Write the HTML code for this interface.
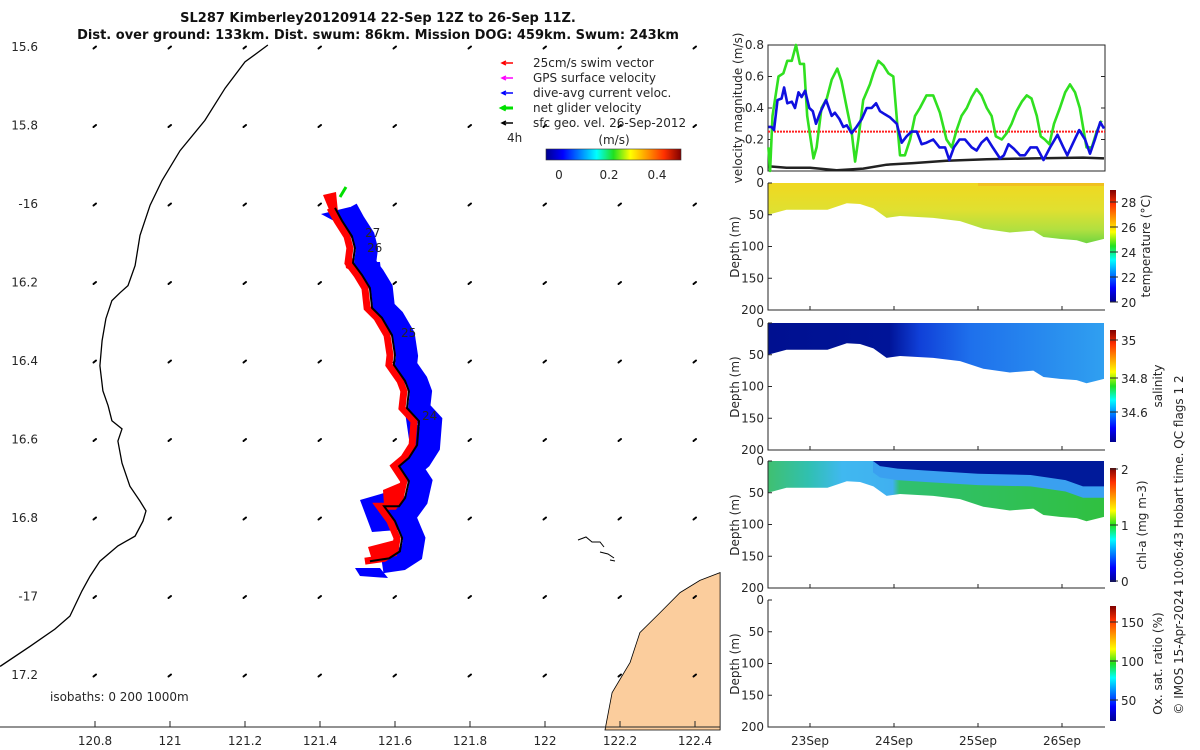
<!DOCTYPE html>
<html><head><meta charset="utf-8"><style>
html,body{margin:0;padding:0;background:#fff;}
svg{display:block;font-family:"DejaVu Sans","Liberation Sans",sans-serif;}
.t{font-size:12px;fill:#262626;}
</style></head><body>
<svg id="fig" width="1200" height="750" viewBox="0 0 1200 750">
<defs>
<linearGradient id="jet" x1="0" x2="1" y1="0" y2="0">
<stop offset="0" stop-color="#00008f"/><stop offset="0.125" stop-color="#0000ff"/><stop offset="0.375" stop-color="#00ffff"/><stop offset="0.5" stop-color="#20e020"/><stop offset="0.625" stop-color="#ffff00"/><stop offset="0.875" stop-color="#ff3000"/><stop offset="1" stop-color="#800000"/>
</linearGradient>
<linearGradient id="jetv" x1="0" x2="0" y1="1" y2="0">
<stop offset="0" stop-color="#00008f"/><stop offset="0.125" stop-color="#0000ff"/><stop offset="0.375" stop-color="#00ffff"/><stop offset="0.5" stop-color="#20e020"/><stop offset="0.625" stop-color="#ffff00"/><stop offset="0.875" stop-color="#ff3000"/><stop offset="1" stop-color="#800000"/>
</linearGradient>
<linearGradient id="tempg" gradientUnits="userSpaceOnUse" x1="0" y1="183" x2="0" y2="250">
<stop offset="0" stop-color="#f0d820"/><stop offset="0.4" stop-color="#e0e030"/><stop offset="0.7" stop-color="#b0e040"/><stop offset="1" stop-color="#50d040"/>
</linearGradient>
<linearGradient id="salg" gradientUnits="userSpaceOnUse" x1="768" y1="0" x2="1105" y2="0">
<stop offset="0" stop-color="#001090"/><stop offset="0.36" stop-color="#001498"/><stop offset="0.45" stop-color="#1040d8"/><stop offset="0.6" stop-color="#1e70ec"/><stop offset="1" stop-color="#30a0f0"/>
</linearGradient>
<linearGradient id="chlg" gradientUnits="userSpaceOnUse" x1="768" y1="0" x2="1105" y2="0">
<stop offset="0" stop-color="#40c070"/><stop offset="0.12" stop-color="#30c0b0"/><stop offset="0.22" stop-color="#40b8f0"/><stop offset="0.37" stop-color="#40b0f0"/><stop offset="0.39" stop-color="#30c070"/><stop offset="1" stop-color="#30c040"/>
</linearGradient>
</defs>

<text x="378" y="22" text-anchor="middle" font-size="13" font-weight="bold" fill="#111">SL287 Kimberley20120914 22-Sep 12Z to 26-Sep 11Z.</text>
<text x="378" y="39" text-anchor="middle" font-size="13" font-weight="bold" fill="#111">Dist. over ground: 133km. Dist. swum: 86km. Mission DOG: 459km. Swum: 243km</text>

<g id="map"></g>
<g id="swath">
<g fill="#0000ff">
<polygon points="321,214 350,207 350,222 336,222"/>
<polygon points="360,500 384,493 398,505 398,530 372,532"/>
<polygon points="355,568 380,568 388,578 360,576"/>
<polygon points="405,412 440,447 412,460"/>
<polygon points="362,262 380,262 382,280 368,280"/>
</g>
<g fill="#ff0000">
<polygon points="323,195 336,192 338,212 330,212"/>
<polygon points="383,490 402,482 400,505 384,505"/>
<polygon points="368,547 395,540 397,556 372,560"/>
<polygon points="345,262 353,258 354,272 346,268"/>
</g>
</g>
<g id="mapTop"></g>
<g id="right"></g>
</svg>
<script>
// ---------- DATA ----------
const lonTicks=[120.8,121,121.2,121.4,121.6,121.8,122,122.2,122.4];
const lonLabels=["120.8","121","121.2","121.4","121.6","121.8","122","122.2","122.4"];
const latTicks=[15.6,15.8,16,16.2,16.4,16.6,16.8,17,17.2];
const latLabels=["15.6","15.8","-16","16.2","16.4","16.6","16.8","-17","17.2"];
const greenT=[0.1,0.6,1.3,3.0,4.4,5.5,6.8,8.0,9.1,10.3,11.2,13.0,13.9,15.3,16.8,18.2,19.8,21.0,22.5,23.9,24.9,25.8,27.2,29.1,30.1,31.5,33.0,34.4,35.8,37.0,37.7,39.1,40.6,42.0,43.4,45.3,47.2,49.1,51.0,52.5,53.9,55.3,56.8,58.2,59.6,61.0,62.5,63.9,65.1,66.8,68.2,69.6,71.0,72.5,73.9,75.3,76.8,77.9,79.1,80.4,81.7,83.4,84.9,86.3,87.7,89.1,91.0,92.5,93.9,95.3];
const greenV=[0.15,0,0.35,0.6,0.62,0.7,0.7,0.8,0.68,0.68,0.35,0.08,0.15,0.4,0.46,0.58,0.65,0.57,0.4,0.25,0.06,0.2,0.45,0.55,0.62,0.7,0.67,0.62,0.6,0.28,0.1,0.1,0.2,0.35,0.4,0.48,0.48,0.37,0.2,0.15,0.26,0.35,0.4,0.47,0.52,0.48,0.4,0.35,0.22,0.2,0.24,0.3,0.38,0.44,0.48,0.46,0.35,0.22,0.2,0.17,0.3,0.4,0.5,0.55,0.5,0.4,0.15,0.15,0.25,0.32];
const blueT=[0.1,1.0,1.7,2.7,3.9,4.6,5.5,6.8,7.7,8.7,9.6,10.6,11.8,12.8,13.7,14.9,16.6,18.2,19.1,20.4,21.5,22.5,23.9,25.3,26.8,28.2,29.6,30.9,32.0,33.4,34.9,36.8,38.2,39.6,41.0,42.5,43.9,45.3,47.2,49.0,50.6,51.8,53.1,54.7,56.3,58.2,59.6,61.0,62.5,64.2,66.3,67.4,68.7,70.3,72.0,73.4,75.0,76.8,78.7,80.6,82.7,84.4,85.5,87.2,88.9,90.6,92.0,93.4,94.9,96.0];
const blueV=[0.28,0.28,0.26,0.45,0.46,0.53,0.43,0.44,0.4,0.5,0.47,0.51,0.4,0.38,0.3,0.37,0.45,0.35,0.37,0.33,0.28,0.29,0.24,0.28,0.33,0.4,0.4,0.43,0.38,0.36,0.34,0.3,0.18,0.22,0.25,0.25,0.17,0.18,0.2,0.15,0.15,0.07,0.15,0.2,0.2,0.15,0.13,0.18,0.21,0.15,0.08,0.1,0.17,0.14,0.1,0.1,0.15,0.15,0.07,0.15,0.23,0.15,0.1,0.18,0.26,0.2,0.11,0.2,0.31,0.27];
const blackT=[0,5.3,12,19.6,27.2,33.9,41.5,51,62.5,75.8,90,96];
const blackV=[0.03,0.02,0.02,0.005,0.015,0.04,0.05,0.065,0.075,0.08,0.085,0.08];
const swimRef=[0.25];
const velTicks=[0,0.2,0.4,0.6,0.8];
const bottomT=[0,5.3,17,22.5,26.3,30.1,33.9,37.7,47.2,54.9,61.5,69.1,75.8,78.7,83.4,88.2,91,96];
const bottomD=[50,42,42,32,33,40,55,52,55,60,72,78,75,85,88,90,95,88];
const navyT=[30,32,37,45,60,75,85,90,96];
const navyD=[0,8,12,15,20,22,30,40,40];
const depthTicks=[0,50,100,150,200];
const dayTicks=[12,36,60,84];
const dayLabels=["23Sep","24Sep","25Sep","26Sep"];
const trackLon=[121.440,121.459,121.485,121.493,121.488,121.512,121.533,121.539,121.565,121.592,121.600,121.597,121.627,121.637,121.632,121.664,121.659,121.637,121.611,121.637,121.627,121.611,121.571,121.600,121.619,121.613,121.584,121.533];
const trackLat=[16.010,16.043,16.082,16.112,16.150,16.181,16.214,16.265,16.290,16.334,16.385,16.410,16.451,16.477,16.520,16.553,16.614,16.647,16.668,16.706,16.749,16.770,16.770,16.808,16.851,16.885,16.903,16.910];
const coastLon=[121.261,121.200,121.147,121.093,121.027,120.979,120.947,120.920,120.907,120.888,120.867,120.845,120.829,120.819,120.813,120.821,120.835,120.845,120.872,120.861,120.872,120.893,120.920,120.936,120.928,120.907,120.861,120.813,120.787,120.765,120.733,120.693,120.627,120.547];
const coastLat=[15.595,15.638,15.705,15.787,15.864,15.940,16.003,16.080,16.157,16.208,16.226,16.246,16.292,16.348,16.412,16.476,16.514,16.552,16.573,16.604,16.660,16.719,16.757,16.782,16.808,16.846,16.871,16.910,16.948,16.986,17.050,17.083,17.127,17.178];
const landLon=[122.160,122.179,122.227,122.253,122.307,122.360,122.413,122.467,122.467];
const landLat=[17.340,17.245,17.168,17.092,17.041,16.990,16.959,16.939,17.340];

const NS="http://www.w3.org/2000/svg";
function mk(parent,tag,attrs,text){const e=document.createElementNS(NS,tag);for(const k in attrs)e.setAttribute(k,attrs[k]);if(text!==undefined)e.textContent=text;parent.appendChild(e);return e;}
const map=document.getElementById('map');
const swath=document.getElementById('swath');
const mapTop=document.getElementById('mapTop');
const right=document.getElementById('right');
const mx=lon=>95+(lon-120.8)*375;
const my=lat=>47+(lat-15.6)*392.5;
function pts(lons,lats,dx,dy){dx=dx||0;dy=dy||0;return lons.map((l,i)=>(mx(l)+dx).toFixed(1)+','+(my(lats[i])+dy).toFixed(1)).join(' ');}

let e=mk(map,'polygon',{points:pts(landLon,landLat),fill:'#fbcd9d',stroke:'#000','stroke-width':0.8});


e=mk(map,'path',{d:'M578,540 l8,-3 l6,5 l8,0 l4,5 M600,552 l8,2 l6,4 M610,560 l5,1',fill:'none',stroke:'#000','stroke-width':1});


e=mk(map,'polyline',{points:pts(coastLon,coastLat),fill:'none',stroke:'#000','stroke-width':1.3});


lonTicks.forEach(lo=>latTicks.forEach(la=>{
  const x=mx(lo),y=my(la);
  const a=mk(map,'path',{d:`M${x-1.5},${y+1.5} L${x+1},${y-0.5}`,stroke:'#000','stroke-width':2,fill:'none','stroke-linecap':'round'});
  
  
}));
// swaths aligned to track
e=mk(map,'polyline',{points:pts(trackLon,trackLat,12,1),fill:'none',stroke:'#0000ff','stroke-width':22,'stroke-linejoin':'miter'});


e=mk(swath,'polyline',{points:pts(trackLon,trackLat,-5,0),fill:'none',stroke:'#ff0000','stroke-width':7});



const tp=pts(trackLon,trackLat);
e=mk(mapTop,'polyline',{points:tp,fill:'none',stroke:'#000','stroke-width':2});


e=mk(mapTop,'line',{x1:340,y1:197,x2:346,y2:187,stroke:'#00e000','stroke-width':3});


[["27",365,237],["26",367,252],["25",401,337],["24",422,420]].forEach(d=>{
  const t=mk(mapTop,'text',{x:d[1],y:d[2],class:'t','font-size':13},d[0]);
  
  
});
e=mk(mapTop,'path',{d:'M0,727 H720',fill:'none',stroke:'#262626','stroke-width':1});


lonTicks.forEach((lo,i)=>{
  mk(mapTop,'line',{x1:mx(lo),y1:727,x2:mx(lo),y2:721,stroke:'#262626'});
  const t=mk(mapTop,'text',{x:mx(lo),y:745,'text-anchor':'middle',class:'t'},lonLabels[i]);
  
  
});
latTicks.forEach((la,i)=>{
  const t=mk(mapTop,'text',{x:38,y:my(la)+4,'text-anchor':'end',class:'t'},latLabels[i]);
  
  
});
e=mk(mapTop,'text',{x:50,y:701,class:'t'},'isobaths: 0   200  1000m');


const leg=[["#ff0000","25cm/s swim vector"],["#ff00ff","GPS surface velocity"],["#0000ff","dive-avg current veloc."],["#00e000","net glider velocity"],["#000","sfc geo. vel. 26-Sep-2012"]];
leg.forEach((l,i)=>{
  const y=63+i*15;
  mk(mapTop,'path',{d:`M513,${y} H503 M506,${y-2} L502,${y} L506,${y+2}`,fill:'none',stroke:l[0],'stroke-width':i==3?3:1.5});
  const t=mk(mapTop,'text',{x:533,y:y+4,class:'t'},l[1]);
  
  
});
e=mk(mapTop,'text',{x:507,y:142,class:'t'},'4h');


e=mk(mapTop,'text',{x:614,y:144,'text-anchor':'middle',class:'t','font-size':14},'(m/s)');


e=mk(mapTop,'rect',{x:546,y:149,width:135,height:11,fill:'url(#jet)',stroke:'#333','stroke-width':0.6});


[["0",559],["0.2",609],["0.4",657]].forEach(d=>{
  const t=mk(mapTop,'text',{x:d[1],y:179,'text-anchor':'middle',class:'t'},d[0]);
  
  
});

const X0=768,X1=1105;
const tx=t=>X0+t*3.5;
const vy=v=>171-v*157.5;
e=mk(right,'rect',{x:X0,y:45,width:X1-X0,height:126,fill:'none',stroke:'#262626'});


velTicks.forEach(v=>{
  mk(right,'line',{x1:X0,x2:X0+4,y1:vy(v),y2:vy(v),stroke:'#262626'});
  mk(right,'line',{x1:X1,x2:X1-4,y1:vy(v),y2:vy(v),stroke:'#262626'});
  const t=mk(right,'text',{x:X0-4,y:vy(v)+4,'text-anchor':'end',class:'t'},String(v));
  
  
});
e=mk(right,'line',{x1:X0,x2:X1,y1:vy(swimRef[0]),y2:vy(swimRef[0]),stroke:'#ff2020','stroke-width':2,'stroke-dasharray':'2,1'});


function series(T,V,col,w,name){
  const p=T.map((t,i)=>tx(t).toFixed(1)+','+vy(V[i]).toFixed(1)).join(' ');
  const s=mk(right,'polyline',{points:p,fill:'none',stroke:col,'stroke-width':w,'stroke-linejoin':'round'});
  
  
}
series(blackT,blackV,'#222',2.5,'surface-geostrophic-speed-line');
series(greenT,greenV,'#30e020',2.6,'net-glider-speed-line');
series(blueT,blueV,'#1010e0',2.6,'current-speed-line');
e=mk(right,'text',{x:0,y:0,class:'t',transform:'translate(742,108) rotate(-90)','text-anchor':'middle'},'velocity magnitude (m/s)');



const panels=[
 {top:183,name:'temperature',fill:'url(#tempg)',cb:[190,302],ticks:[[20,302],[22,277],[24,252],[26,227],[28,202]],label:'temperature (°C)',lx:1150},
 {top:323,name:'salinity',fill:'url(#salg)',cb:[330,442],ticks:[[35,340],[34.8,378],[34.6,412]],label:'salinity',lx:1162},
 {top:461,name:'chlorophyll',fill:'url(#chlg)',cb:[468,582],ticks:[[2,469],[1,525],[0,581]],label:'chl-a (mg m-3)',lx:1146},
 {top:600,name:'oxygen',fill:null,cb:[606,721],ticks:[[150,622],[100,661],[50,700]],label:'Ox. sat. ratio (%)',lx:1162}
];
panels.forEach((P,pi)=>{
  const dy=d=>P.top+d*0.635;
  if(P.fill){
    const p=[tx(bottomT[0])+','+dy(0)].concat(bottomT.map((t,i)=>tx(t).toFixed(1)+','+dy(bottomD[i]).toFixed(1))).concat([tx(96)+','+dy(0)]).join(' ');
    const s=mk(right,'polygon',{points:p,fill:P.fill});
    
    
    if(P.name==='chlorophyll'){
      const lb=navyT.map((t,i)=>tx(t).toFixed(1)+','+dy(Math.min(navyD[i]+18,bottomD[bottomD.length-1])).toFixed(1)).join(' ');
      const q=mk(right,'polygon',{points:tx(30)+','+dy(0)+' '+lb+' '+tx(96)+','+dy(0),fill:'#3aa0f0'});
      
      
      const nb=navyT.map((t,i)=>tx(t).toFixed(1)+','+dy(navyD[i]).toFixed(1)).join(' ');
      const n=mk(right,'polygon',{points:nb+' '+tx(96)+','+dy(0),fill:'#001a9a'});
      
      
    }
    if(P.name==='temperature'){
      const o=mk(right,'rect',{x:tx(60),y:dy(0),width:tx(96)-tx(60),height:3,fill:'#f0b020',opacity:0.6});
      
      
    }
  }
  const ax=mk(right,'path',{d:`M${X0},${P.top} V${dy(200)} H${X1}`,fill:'none',stroke:'#262626'});
  
  
  depthTicks.forEach(d=>{
    mk(right,'line',{x1:X0,x2:X0+4,y1:dy(d),y2:dy(d),stroke:'#262626'});
    const t=mk(right,'text',{x:X0-4,y:dy(d)+4,'text-anchor':'end',class:'t'},String(d));
    
    
  });
  const yt=mk(right,'text',{x:0,y:0,class:'t',transform:`translate(739,${P.top+64}) rotate(-90)`,'text-anchor':'middle'},'Depth (m)');
  
  
  dayTicks.forEach(t=>mk(right,'line',{x1:tx(t),x2:tx(t),y1:dy(200),y2:dy(200)-4,stroke:'#262626'}));
  const cb=mk(right,'rect',{x:1110,y:P.cb[0],width:6,height:P.cb[1]-P.cb[0],fill:'url(#jetv)'});
  
  
  P.ticks.forEach(k=>{
    mk(right,'line',{x1:1110,x2:1118,y1:k[1],y2:k[1],stroke:'#262626'});
    const t=mk(right,'text',{x:1121,y:k[1]+5,class:'t','font-size':13},String(k[0]));
    
    
  });
  const cl=mk(right,'text',{x:0,y:0,class:'t','font-size':14,transform:`translate(${P.lx},${(P.cb[0]+P.cb[1])/2}) rotate(-90)`,'text-anchor':'middle'},P.label);
  
  
});
dayTicks.forEach((t,i)=>{
  const l=mk(right,'text',{x:tx(t),y:745,'text-anchor':'middle',class:'t'},dayLabels[i]);
  
  
});
e=mk(right,'text',{x:0,y:0,class:'t','font-size':13,transform:'translate(1183,545) rotate(-90)','text-anchor':'middle'},'© IMOS 15-Apr-2024 10:06:43 Hobart time. QC flags 1  2');


</script>
</body></html>
